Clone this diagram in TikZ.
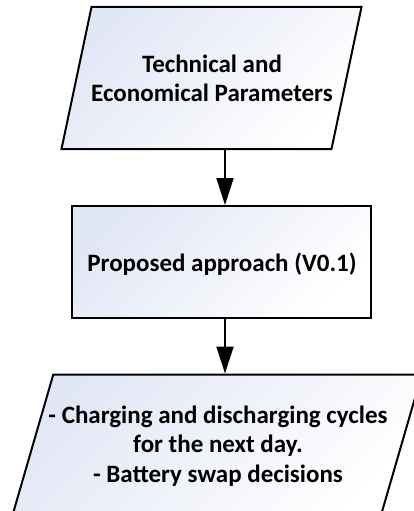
\documentclass[tikz,border=0pt]{standalone}
\usepackage{fontspec}
\setmainfont{Carlito}
\usetikzlibrary{arrows.meta}
\definecolor{shadeblue}{RGB}{226,231,246}
\begin{document}
\begin{tikzpicture}[x=1pt,y=-1pt,
  shapeline/.style={draw=black, line width=2pt, line join=miter},
  gradfill/.style={shading=axis, top color=shadeblue, bottom color=white, shading angle=45},
  txt/.style={font=\bfseries\fontsize{25}{29.5}\selectfont, align=center, inner sep=0pt},
  arr/.style={line width=2pt, -{Triangle[width=17pt,length=27pt]}}]
\useasboundingbox (0,0) rectangle (414,511);
% input parallelogram
\path[shapeline, gradfill] (91.5,7) -- (361.5,7) -- (331.5,149) -- (61.5,149) -- cycle;
\node[txt] (params) at (212,78.4) {Technical and\\Economical Parameters};
\coordinate (paramsout) at (225,149);
% process box
\node[shapeline, gradfill, minimum width=299pt, minimum height=112pt, inner sep=0pt] (approachbox) at (221,262) {};
\node[txt, anchor=base] (approach) at (222,271.7) {Proposed approach (V0.1)};
% output parallelogram
\path[shapeline, gradfill] (53.3,374.5) -- (421.8,374.5) -- (379.6,520) -- (11.1,520) -- cycle;
\node[txt] (outputs) at (218,446.1) {- Charging and discharging cycles\\for the next day.\\- Battery swap decisions};
\coordinate (outputsin) at (225,373.5);
% connectors
\draw[arr] (paramsout) -- (paramsout |- approachbox.north);
\draw[arr] (approachbox.south -| outputsin) -- (outputsin);
\end{tikzpicture}
\end{document}
